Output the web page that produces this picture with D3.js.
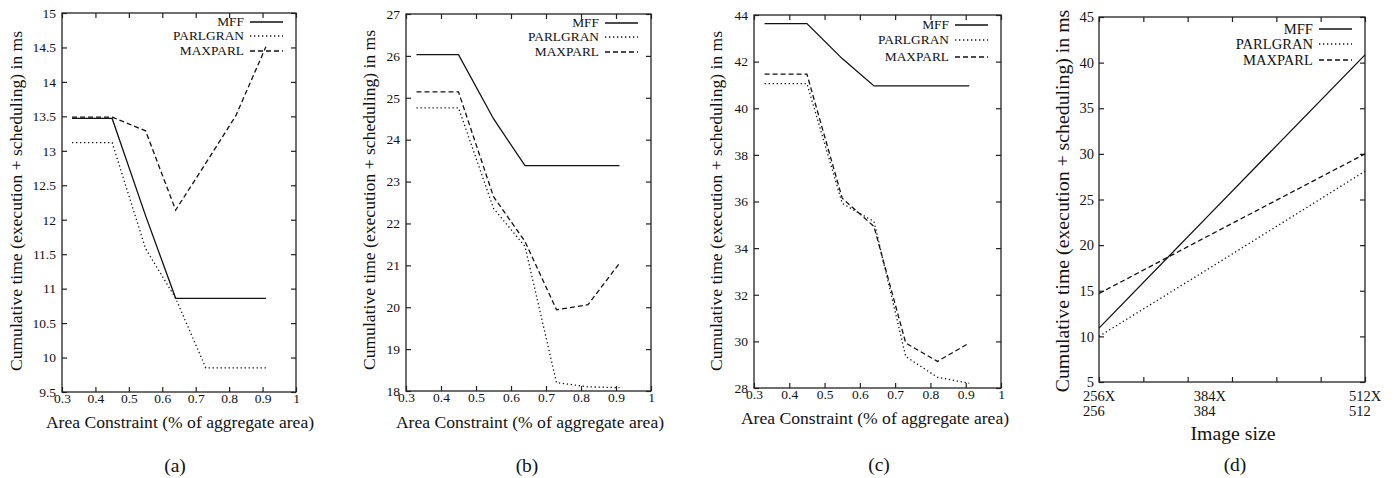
<!DOCTYPE html>
<html>
<head>
<meta charset="utf-8">
<script src="https://cdn.jsdelivr.net/npm/d3@7"></script>
<style>
  body { margin: 0; background: #fff; }
  svg { display: block; }
  svg text { font-family: "Liberation Serif", "Times New Roman", serif; }
</style>
</head>
<body>
<svg id="chart" width="1399" height="478"></svg>
<script>
// x values shared by panels a-c
const areaConstraint = [0.33, 0.45, 0.55, 0.64, 0.73, 0.82, 0.91];
const areaTicks = [0.3, 0.4, 0.5, 0.6, 0.7, 0.8, 0.9, 1];
const seriesNames = ["MFF", "PARLGRAN", "MAXPARL"];

// panel (a)
const aMFF      = [13.47, 13.47, 12.06, 10.86, 10.86, 10.86, 10.86];
const aPARLGRAN = [13.12, 13.12, 11.58, 10.86, 9.85, 9.85, 9.85];
const aMAXPARL  = [13.49, 13.49, 13.29, 12.14, 12.82, 13.51, 14.51];
const aYTicks = [9.5, 10, 10.5, 11, 11.5, 12, 12.5, 13, 13.5, 14, 14.5, 15];

// panel (b)
const bMFF      = [26.03, 26.03, 24.5, 23.38, 23.38, 23.38, 23.38];
const bPARLGRAN = [24.76, 24.76, 22.36, 21.45, 18.2, 18.1, 18.08];
const bMAXPARL  = [25.14, 25.14, 22.64, 21.57, 19.94, 20.06, 21.05];
const bYTicks = [18, 19, 20, 21, 22, 23, 24, 25, 26, 27];

// panel (c)
const cMFF      = [43.63, 43.63, 42.13, 40.96, 40.96, 40.96, 40.96];
const cPARLGRAN = [41.06, 41.06, 35.92, 35.14, 29.35, 28.46, 28.2];
const cMAXPARL  = [41.46, 41.46, 36.14, 34.93, 29.93, 29.14, 29.93];
const cYTicks = [28, 30, 32, 34, 36, 38, 40, 42, 44];

// panel (d)
const imageSizes = [256, 384, 512];
const imageSizeLabels = [["256X", "256"], ["384X", "384"], ["512X", "512"]];
const dMFF      = [10.9, 23.4, 40.85];
const dPARLGRAN = [10.0, 17.5, 28.1];
const dMAXPARL  = [14.7, 21.1, 30.0];
const dYTicks = [5, 10, 15, 20, 25, 30, 35, 40, 45];

const dashes = { MFF: null, PARLGRAN: "1.3,2.7", MAXPARL: "5,3" };
const fmt = v => String(+v.toFixed(2));

const panels = [
    { box: [62, 296, 13, 392], xVals: areaConstraint, xDomain: [0.3, 1], xTicks: areaTicks,
      yDomain: [9.5, 15], yTicks: aYTicks, data: [aMFF, aPARLGRAN, aMAXPARL],
      yLab: [16, 201], xLab: [180, 422], cap: [175, 466], caption: "(a)", legRows: [9, 23, 38],
      xTitle: "Area Constraint (% of aggregate area)", tickFont: 13.5, titleFont: 17.6, legFont: 13.4 },
    { box: [406, 651, 14, 391], xVals: areaConstraint, xDomain: [0.3, 1], xTicks: areaTicks,
      yDomain: [18, 27], yTicks: bYTicks, data: [bMFF, bPARLGRAN, bMAXPARL],
      yLab: [369, 200], xLab: [530, 422], cap: [527, 466], caption: "(b)", legRows: [9, 23, 38],
      xTitle: "Area Constraint (% of aggregate area)", tickFont: 13.5, titleFont: 17.6, legFont: 13.4 },
    { box: [754, 1001, 15, 388], xVals: areaConstraint, xDomain: [0.3, 1], xTicks: areaTicks,
      yDomain: [28, 44], yTicks: cYTicks, data: [cMFF, cPARLGRAN, cMAXPARL],
      yLab: [716, 201], xLab: [875, 418], cap: [879, 465], caption: "(c)", legRows: [10, 25, 42],
      xTitle: "Area Constraint (% of aggregate area)", tickFont: 13.5, titleFont: 17.6, legFont: 13.4 },
    { box: [1099, 1365, 17, 382], xVals: imageSizes.map(s => s * s),
      xDomain: [256 * 256, 512 * 512], xTicks: null,
      yDomain: [5, 45], yTicks: dYTicks, data: [dMFF, dPARLGRAN, dMAXPARL],
      yLab: [1062, 201], xLab: [1233, 433], cap: [1235, 465], caption: "(d)", legRows: [12, 27, 43],
      xTitle: "Image size", tickFont: 14.5, titleFont: 19.8, legFont: 14.6 }
];

const svg = d3.select('#chart');
panels.forEach(drawPanel);

function drawPanel(p) {
    const [x0, x1, y0, y1] = p.box;
    const x = d3.scaleLinear().domain(p.xDomain).range([x0, x1]);
    const y = d3.scaleLinear().domain(p.yDomain).range([y1, y0]);
    const g = svg.append('g');

    // x ticks: panel d uses 7 even ticks with labels only at image sizes
    const xTicks = p.xTicks || d3.range(7).map(i => p.xDomain[0] + i * (p.xDomain[1] - p.xDomain[0]) / 6);

    const axes = [
        g.append('g').attr('transform', `translate(0,${y1})`)
            .call(d3.axisBottom(x).tickValues(xTicks).tickSizeInner(-5).tickSizeOuter(0).tickPadding(1.5)
                .tickFormat(p.xTicks ? fmt : () => '')),
        g.append('g').attr('transform', `translate(0,${y0})`)
            .call(d3.axisTop(x).tickValues(xTicks).tickSizeInner(-5).tickSizeOuter(0).tickFormat(() => '')),
        g.append('g').attr('transform', `translate(${x0},0)`)
            .call(d3.axisLeft(y).tickValues(p.yTicks).tickSizeInner(-5).tickSizeOuter(0)
                .tickPadding(p.xTicks ? 6 : 5).tickFormat(fmt)),
        g.append('g').attr('transform', `translate(${x1},0)`)
            .call(d3.axisRight(y).tickValues(p.yTicks).tickSizeInner(-5).tickSizeOuter(0).tickFormat(() => ''))
    ];
    axes.forEach(a => a.attr('font-family', null).attr('font-size', p.tickFont));

    g.selectAll('.domain').remove();
    g.selectAll('.tick line').attr('stroke', '#222').attr('stroke-width', 1.2);
    g.selectAll('.tick text').attr('fill', '#111');

    // frame
    g.append('rect')
        .attr('x', x0).attr('y', y0).attr('width', x1 - x0).attr('height', y1 - y0)
        .attr('fill', 'none').attr('stroke', '#222').attr('stroke-width', 1.3);

    // two-line labels for image sizes
    if (!p.xTicks) {
        imageSizes.forEach((s, i) => {
            const t = g.append('text').attr('font-size', p.tickFont).attr('fill', '#111');
            const l1 = t.append('tspan').attr('y', y1 + 18.5).text(imageSizeLabels[i][0]);
            const w = l1.node().getComputedTextLength();
            const lx = x(s * s) - w / 2;
            l1.attr('x', lx);
            t.append('tspan').attr('x', lx).attr('y', y1 + 34).text(imageSizeLabels[i][1]);
        });
    }

    // series
    const line = d3.line().x((d, i) => x(p.xVals[i])).y(d => y(d));
    p.data.forEach((vals, k) => {
        g.append('path')
            .attr('d', line(vals))
            .attr('fill', 'none')
            .attr('stroke', '#111')
            .attr('stroke-width', 1.3)
            .attr('stroke-dasharray', dashes[seriesNames[k]]);
    });

    // legend
    seriesNames.forEach((name, k) => {
        const ly = y0 + p.legRows[k];
        g.append('text')
            .attr('x', x1 - 52).attr('y', ly).attr('dy', '0.33em')
            .attr('text-anchor', 'end').attr('font-size', p.legFont).attr('fill', '#111')
            .text(name);
        g.append('line')
            .attr('x1', x1 - 46).attr('x2', x1 - 13).attr('y1', ly).attr('y2', ly)
            .attr('stroke', '#111').attr('stroke-width', 1.3)
            .attr('stroke-dasharray', dashes[name]);
    });

    // titles
    g.append('text')
        .attr('transform', `translate(${p.yLab[0]},${p.yLab[1]}) rotate(-90)`)
        .attr('dy', '0.33em').attr('text-anchor', 'middle')
        .attr('font-size', p.titleFont).attr('fill', '#111')
        .text('Cumulative time (execution + scheduling) in ms');
    g.append('text')
        .attr('x', p.xLab[0]).attr('y', p.xLab[1]).attr('dy', '0.33em')
        .attr('text-anchor', 'middle').attr('font-size', p.titleFont).attr('fill', '#111')
        .text(p.xTitle);
    g.append('text')
        .attr('x', p.cap[0]).attr('y', p.cap[1]).attr('dy', '0.33em')
        .attr('text-anchor', 'middle').attr('font-size', 19.5).attr('fill', '#111')
        .text(p.caption);
}
</script>
</body>
</html>
